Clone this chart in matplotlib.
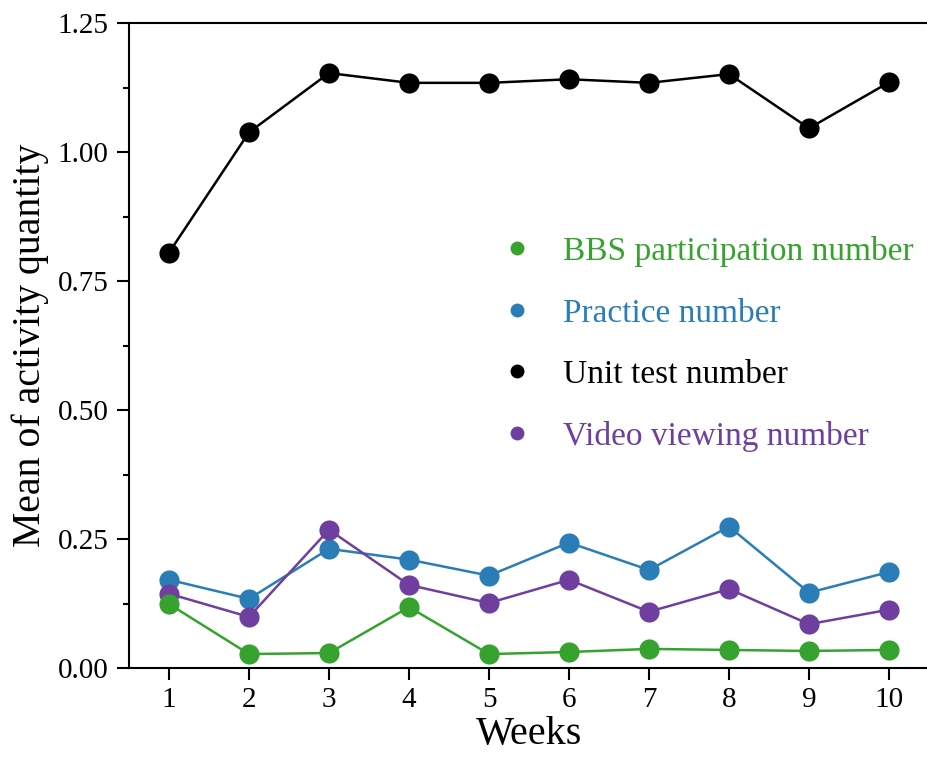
import matplotlib
matplotlib.use("Agg")
import matplotlib.pyplot as plt
from matplotlib.lines import Line2D
from matplotlib.ticker import MultipleLocator

weeks = [1, 2, 3, 4, 5, 6, 7, 8, 9, 10]
bbs = [0.124, 0.027, 0.029, 0.118, 0.027, 0.031, 0.037, 0.035, 0.033, 0.035]
practice = [0.171, 0.134, 0.231, 0.210, 0.179, 0.243, 0.190, 0.274, 0.146, 0.186]
unit_test = [0.805, 1.038, 1.153, 1.134, 1.134, 1.141, 1.134, 1.151, 1.046, 1.135]
video = [0.144, 0.099, 0.268, 0.161, 0.126, 0.171, 0.109, 0.153, 0.085, 0.113]

labels = ["BBS participation number", "Practice number", "Unit test number", "Video viewing number"]
colors = ["#36a32e", "#2a7db6", "#000000", "#6e3f9e"]
yticks = [0.00, 0.25, 0.50, 0.75, 1.00, 1.25]

plt.rcParams['font.family'] = ['Liberation Serif', 'DejaVu Serif']

W, H = 928, 765
fig = plt.figure(figsize=(W / 100, H / 100), dpi=100)
ax = fig.add_axes([129 / W, (H - 668) / H, 800 / W, 645 / H])

series = [bbs, practice, unit_test, video]
for idx in [2, 1, 3, 0]:
    ax.plot(weeks, series[idx], color=colors[idx], lw=1.8, marker='o', ms=14.5,
            markeredgewidth=0, zorder=3, clip_on=False)

ax.set_xlim(0.5, 10.5)
ax.set_ylim(0, 1.25)
ax.set_xticks(weeks)
ax.set_yticks(yticks)
ax.set_yticklabels([f"{v:.2f}" for v in yticks])
ax.yaxis.set_minor_locator(MultipleLocator(0.125))
ax.spines['right'].set_visible(False)
for s in ['left', 'bottom', 'top']:
    ax.spines[s].set_linewidth(1.5)
ax.tick_params(axis='both', which='major', direction='out', labelsize=21, width=1.5, length=8.6)
ax.tick_params(axis='y', which='major', pad=6)
ax.tick_params(axis='x', which='major', pad=5)
ax.tick_params(axis='y', which='minor', length=4.3, width=1.5)
ax.set_xlabel("Weeks", fontsize=29, labelpad=2)
ax.set_ylabel("Mean of activity quantity", fontsize=28.6, labelpad=6)

handles = [Line2D([], [], ls='none', marker='o', ms=10, color=c, markeredgewidth=0) for c in colors]
leg = fig.legend(handles, labels, loc='upper left', bbox_to_anchor=(500 / W, 1 - 236 / H),
                 frameon=False, fontsize=24, handlelength=1.0, handletextpad=0.9,
                 labelspacing=0.93, borderpad=0, borderaxespad=0)
for t, c in zip(leg.get_texts(), colors):
    t.set_color(c)

fig.savefig("out.png", dpi=100)
